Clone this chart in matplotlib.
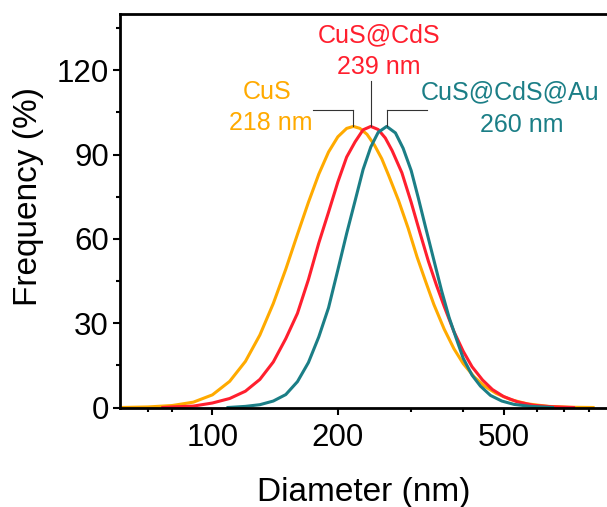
import matplotlib
matplotlib.use('Agg')
import numpy as np
import matplotlib.pyplot as plt
from matplotlib.ticker import FixedLocator, NullFormatter

plt.rcParams['font.family'] = ['Liberation Sans', 'DejaVu Sans']

# size distributions (diameter in nm, frequency in %)
cus_d = [60, 70, 80, 90, 100, 110, 120, 130, 140, 150, 160, 170, 180, 190, 200, 210, 218,
         226, 235, 245, 255, 265, 280, 295, 310, 325, 340, 360, 380, 400, 425, 450, 480,
         520, 570, 640, 720, 820]
cus_f = [0, 0.2, 0.7, 1.9, 4.5, 9.3, 16.4, 25.8, 37.0, 49.2, 61.6, 73.0, 83.0, 90.9, 96.3, 99.3, 100,
         99.3, 97.2, 93.3, 88.5, 82.5, 73.5, 63.8, 53.5, 44.8, 36.7, 27.9, 20.9, 15.6, 10.9, 7.6, 5.0,
         2.8, 1.3, 0.4, 0.1, 0]

cds_d = [76, 80, 90, 100, 110, 120, 130, 140, 150, 160, 170, 180, 190, 200, 210, 220, 230, 240,
         250, 260, 270, 285, 300, 315, 330, 345, 360, 380, 400, 420, 445, 470, 500, 540, 590,
         650, 736]
cds_f = [0, 0.2, 0.5, 1.6, 3.2, 5.8, 10.0, 16.2, 24.5, 33.5, 45.5, 58.5, 69.5, 80.2, 89.1, 94.5, 98.8, 100,
         98.9, 95.9, 91.4, 83.5, 73.0, 62.1, 52.0, 43.5, 36.0, 27.0, 20.0, 14.5, 9.8, 6.4, 3.9, 2.0, 0.8,
         0.3, 0]

au_d = [109, 120, 130, 140, 150, 160, 170, 180, 190, 200, 210, 220, 230, 240, 250, 262,
        275, 287, 300, 312, 325, 340, 355, 370, 385, 400, 420, 440, 465, 495, 530, 580, 655]
au_f = [0, 0.4, 1.0, 2.3, 4.6, 9.2, 16.0, 25.1, 35.5, 48.9, 61.9, 73.5, 84.7, 92.7, 97.9, 100,
        97.7, 92.2, 84.3, 74.6, 64.0, 52.5, 41.5, 32.0, 24.5, 17.5, 11.5, 7.6, 4.3, 2.3, 1.1, 0.4, 0]

names = ['CuS', 'CuS@CdS', 'CuS@CdS@Au']
peak_labels = ['218 nm', '239 nm', '260 nm']
colors = ['#FFAA00', '#FF1F2E', '#1B7E86']

# annotation layout: leader top, leader horizontal end, name / size label anchors
lead_top = [106, 116, 106]
lead_end = [174, None, 327]
name_xy = [(135.5, 109.9), (250.6, 129.8), (316.8, 109.6)]
name_ha = ['center', 'center', 'left']
size_xy = [(138.4, 98.6), (251.3, 118.5), (552, 98.1)]

fig = plt.figure(figsize=(6.07, 5.07), dpi=100)
ax = fig.add_axes([120 / 607, 99.5 / 507, 509 / 607, 393.5 / 507])

series = [(cus_d, cus_f), (cds_d, cds_f), (au_d, au_f)]
for (d, f), c in zip(series, colors):
    ax.plot(d, f, color=c, lw=2.2, solid_joinstyle='round')

for i, ((d, f), c) in enumerate(zip(series, colors)):
    k = int(np.argmax(f))
    px = d[k]
    ax.plot([px, px], [f[k], lead_top[i]], color='#333333', lw=0.8)
    if lead_end[i] is not None:
        ax.plot([px, lead_end[i]], [lead_top[i], lead_top[i]], color='#333333', lw=0.8)
    ax.text(name_xy[i][0], name_xy[i][1], names[i], color=c, fontsize=18,
            ha=name_ha[i], va='baseline')
    ax.text(size_xy[i][0], size_xy[i][1], peak_labels[i], color=c, fontsize=18,
            ha='center', va='baseline')

ax.set_xscale('log')
ax.set_xlim(60, 1000)
ax.set_ylim(0, 140)
ax.set_xticks([100, 200, 500])
ax.set_xticklabels(['100', '200', '500'])
ax.xaxis.set_minor_locator(FixedLocator([70, 80, 300, 400, 600, 700, 800, 900]))
ax.xaxis.set_minor_formatter(NullFormatter())
ax.set_yticks([0, 30, 60, 90, 120])
ax.yaxis.set_minor_locator(FixedLocator([15, 45, 75, 105, 135]))

ax.tick_params(which='major', direction='out', length=5, width=1.5, labelsize=22.5)
ax.tick_params(which='minor', direction='out', length=3, width=1.5)
ax.tick_params(axis='x', which='major', pad=6)
ax.tick_params(axis='y', which='major', pad=3)
for s in ['top', 'left', 'bottom', 'right']:
    ax.spines[s].set_linewidth(2)

ax.set_xlabel('Diameter (nm)', fontsize=24)
ax.set_ylabel('Frequency (%)', fontsize=24)
ax.xaxis.set_label_coords(0.479, -0.176)
ax.yaxis.set_label_coords(-0.15, 0.535)

fig.savefig('out.png', dpi=100, facecolor='white')
